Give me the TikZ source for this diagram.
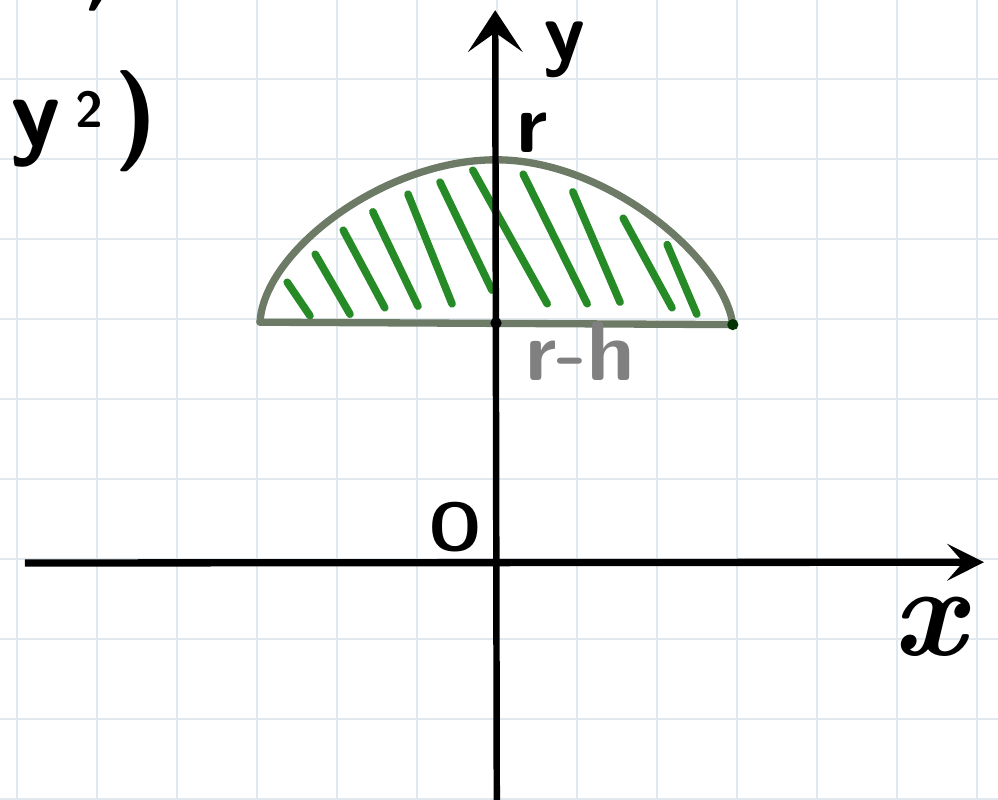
\documentclass[tikz,border=0pt]{standalone}
\usepackage{fontspec}
\usetikzlibrary{arrows.meta}

\definecolor{gridblue}{RGB}{226,233,238}
\definecolor{hatchgreen}{RGB}{38,138,38}
\definecolor{capgray}{RGB}{108,122,102}
\definecolor{inkgray}{RGB}{128,128,128}

\tikzset{
  gridline/.style={draw=gridblue, line width=1pt},
  axis/.style={black, line width=2.6pt},
  hatch/.style={hatchgreen, line width=2.7pt, line cap=round},
  capline/.style={capgray, line width=2.6pt, line cap=round},
  hand/.style={inner sep=0pt, font=\fontsize{30}{30}\selectfont\sffamily\bfseries},
}

\begin{document}
\begin{tikzpicture}
    % Paper and grid
    \useasboundingbox (0,0) rectangle (12.475,9.9875);
    \clip (0,0) rectangle (12.475,9.9875);
    \fill[white] (0,0) rectangle (12.475,9.9875);
    \draw[gridline, xshift=2.125mm] (-1,-1) grid (13,11);

    % Cap corners and top
    \coordinate (capL) at (3.25,5.96);
    \coordinate (capR) at (9.16,5.93);
    \coordinate (capTop) at (6.2,7.99);

    % Hatching (left of the axis)
    \draw[hatch] (3.59,6.46) -- (3.875,6.04);
    \draw[hatch] (3.94,6.81) -- (4.375,6.06);
    \draw[hatch] (4.29,7.11) -- (4.81,6.14);
    \draw[hatch] (4.66,7.34) -- (5.225,6.16);
    \draw[hatch] (5.10,7.56) -- (5.65,6.19);
    \draw[hatch] (5.50,7.71) -- (6.15,6.36);
    % Hatching (across and right of the axis)
    \draw[hatch] (5.91,7.86) -- (6.84,6.19);
    \draw[hatch] (6.54,7.81) -- (7.34,6.19);
    \draw[hatch] (7.16,7.59) -- (7.75,6.21);
    \draw[hatch] (7.79,7.26) -- (8.40,6.14);
    \draw[hatch] (8.34,6.93) -- (8.71,6.06);

    % Cap outline
    \draw[capline] (capL) .. controls (3.3,6.85) and (4.8,7.99) .. (capTop)
        .. controls (7.6,7.99) and (9.05,6.75) .. (capR);
    \draw[capline] (capL) -- (capR);

    % Axes
    \coordinate (xstart) at (0.31,2.95);
    \coordinate (xend) at (12.3,2.96);
    \coordinate (ystart) at (6.21,-0.1);
    \coordinate (yend) at (6.19,9.86);
    \draw[axis, -{Stealth[length=4.6mm,width=4.6mm,inset=2mm]}] (xstart) -- (xend);
    \draw[axis, line width=2.3pt, -{Stealth[length=5.2mm,width=6.8mm,inset=2.4mm]}] (ystart) -- (yend);

    % End points of the base
    \fill[black!80!green] (capR) circle (0.07);
    \fill[black] (6.2,5.95) circle (0.07);

    % Labels
    \node[hand] (ylab) at (7.06,9.37) {y};
    \node[hand] (rlab) at (6.65,8.33) {r};
    \node[hand, text=inkgray] (rhlab) at (7.25,5.6) {r-h};
    \node[hand, font=\fontsize{24}{24}\selectfont\sffamily\bfseries] (olab) at (5.69,3.4) {O};
    \node[inner sep=0pt, font=\fontsize{46}{46}\selectfont\bfseries\itshape] (xlab) at (11.61,2.15) {x};
    \node[hand, font=\fontsize{36}{36}\selectfont\sffamily\bfseries, anchor=base west] (formula) at (0.125,8.16)
        {y\hspace{5pt}\raisebox{6.8pt}{\fontsize{18}{18}\selectfont 2}\hspace{4pt})};
    \node[hand, font=\fontsize{36}{36}\selectfont\sffamily\bfseries, anchor=base west] (comma) at (1.0,9.98) {,};
\end{tikzpicture}
\end{document}
